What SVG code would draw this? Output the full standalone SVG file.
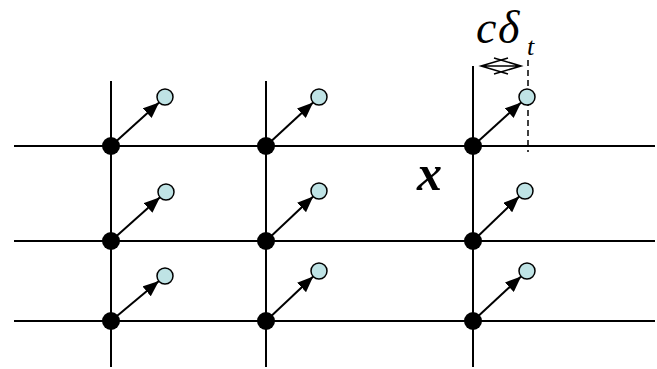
<svg xmlns="http://www.w3.org/2000/svg" width="657" height="369" viewBox="0 0 657 369">
<style>
.grid{stroke:#000;stroke-width:2;fill:none}
.arr{stroke:#000;stroke-width:2;fill:none;marker-end:url(#ah)}
.dot{fill:#000}
.pt{fill:#bfe3e5;stroke:#000;stroke-width:1.5}
.lbl{font-family:"Liberation Serif","Times New Roman",serif;font-style:italic;fill:#000}
</style>
<defs>
<marker id="ah" markerUnits="userSpaceOnUse" markerWidth="16" markerHeight="13" refX="16" refY="6.5" orient="auto">
<path d="M0,0 L16,6.5 L0,13 z" fill="#000"/>
</marker>
</defs>
<rect width="657" height="369" fill="#fff"/>
<g id="grid">
<line class="grid" x1="14" y1="146" x2="655" y2="146"/>
<line class="grid" x1="14" y1="241" x2="655" y2="241"/>
<line class="grid" x1="14" y1="321" x2="655" y2="321"/>
<line class="grid" x1="111" y1="81" x2="111" y2="367"/>
<line class="grid" x1="266" y1="81" x2="266" y2="367"/>
<line class="grid" x1="473" y1="66" x2="473" y2="367"/>
</g>
<g id="connectors">
<line class="arr" x1="111" y1="146" x2="159.1" y2="102.4"/>
<line class="arr" x1="266" y1="146" x2="313.1" y2="102.4"/>
<line class="arr" x1="473" y1="146" x2="521.1" y2="102.4"/>
<line class="arr" x1="111" y1="241" x2="160" y2="197.3"/>
<line class="arr" x1="266" y1="241" x2="313.2" y2="196.5"/>
<line class="arr" x1="473" y1="241" x2="519.2" y2="196.5"/>
<line class="arr" x1="111" y1="321" x2="158.9" y2="281.1"/>
<line class="arr" x1="266" y1="321" x2="313.2" y2="276.5"/>
<line class="arr" x1="473" y1="321" x2="521.1" y2="276.4"/>
</g>
<g id="measure">
<line x1="528" y1="60" x2="528" y2="152" stroke="#000" stroke-width="1.5" stroke-dasharray="6,4"/>
<path d="M481,66 L521,66 M508,58 L481,66 L508,74 M494,58 L521,66 L494,74" stroke="#000" stroke-width="1.5" fill="none"/>
<text class="lbl" x="476" y="43" font-size="46">c</text>
<text class="lbl" x="498" y="43" font-size="46">δ</text>
<text class="lbl" x="527" y="55" font-size="26">t</text>
</g>
<g id="n11"><circle class="pt" cx="165" cy="97" r="8"/><circle class="dot" cx="111" cy="146" r="9"/></g>
<g id="n12"><circle class="pt" cx="319" cy="97" r="8"/><circle class="dot" cx="266" cy="146" r="9"/></g>
<g id="n13"><circle class="pt" cx="527" cy="97" r="8"/><circle class="dot" cx="473" cy="146" r="9"/></g>
<g id="n21"><circle class="pt" cx="166" cy="192" r="8"/><circle class="dot" cx="111" cy="241" r="9"/></g>
<g id="n22"><circle class="pt" cx="319" cy="191" r="8"/><circle class="dot" cx="266" cy="241" r="9"/></g>
<g id="n23"><circle class="pt" cx="525" cy="191" r="8"/><circle class="dot" cx="473" cy="241" r="9"/></g>
<g id="n31"><circle class="pt" cx="165" cy="276" r="8"/><circle class="dot" cx="111" cy="321" r="9"/></g>
<g id="n32"><circle class="pt" cx="319" cy="271" r="8"/><circle class="dot" cx="266" cy="321" r="9"/></g>
<g id="n33"><circle class="pt" cx="527" cy="271" r="8"/><circle class="dot" cx="473" cy="321" r="9"/></g>
<text id="xlabel" class="lbl" x="417" y="190" font-size="50" font-weight="bold">x</text>
</svg>
